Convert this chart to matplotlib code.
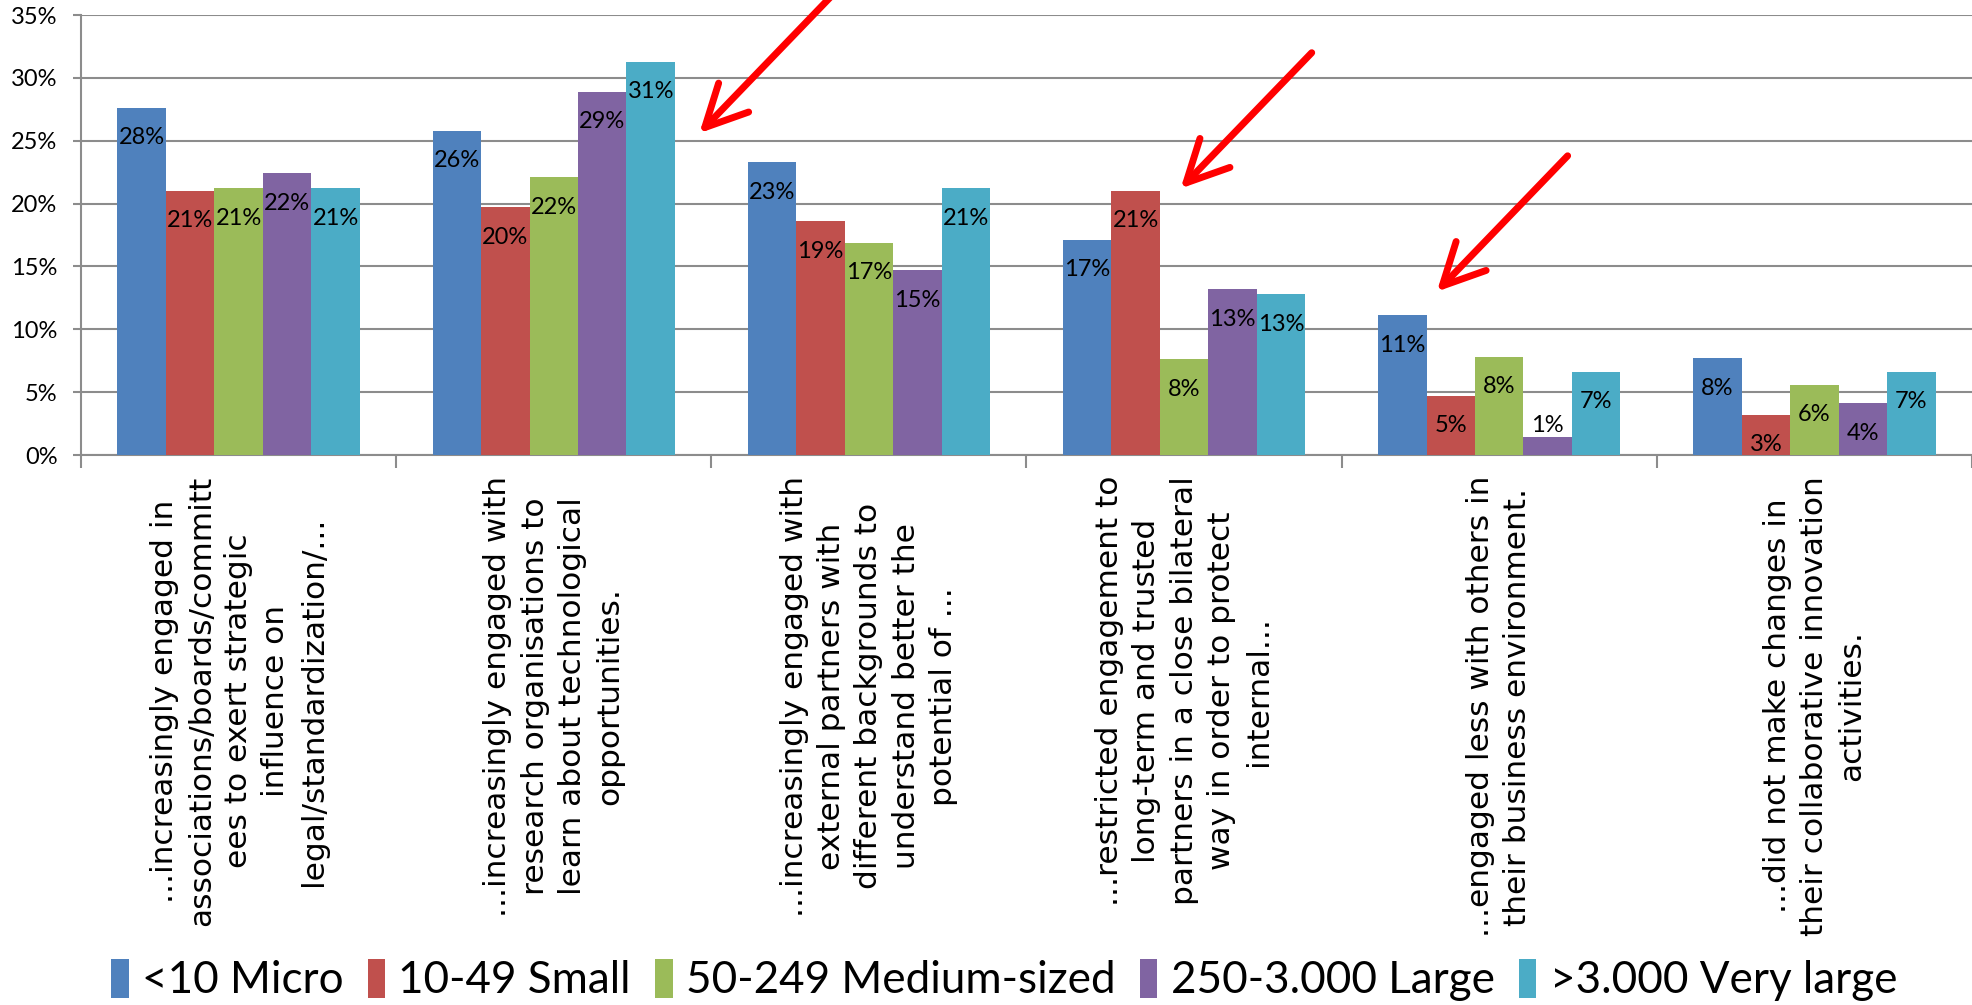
import matplotlib
matplotlib.use("Agg")
import matplotlib.pyplot as plt
import numpy as np

categories = [
    "...increasingly engaged in\nassociations/boards/committ\nees to exert strategic\ninfluence on\nlegal/standardization/...",
    "...increasingly engaged with\nresearch organisations to\nlearn about technological\nopportunities.",
    "...increasingly engaged with\nexternal partners with\ndifferent backgrounds to\nunderstand better the\npotential of ...",
    "...restricted engagement to\nlong-term and trusted\npartners in a close bilateral\nway in order to protect\ninternal...",
    "...engaged less with others in\ntheir business environment.",
    "...did not make changes in\ntheir collaborative innovation\nactivities.",
]
series_names = ["<10 Micro", "10-49 Small", "50-249 Medium-sized", "250-3.000 Large", ">3.000 Very large"]
micro = [27.6, 25.8, 23.3, 17.1, 11.1, 7.7]
small = [21.0, 19.7, 18.6, 21.0, 4.7, 3.2]
medium = [21.2, 22.1, 16.9, 7.6, 7.8, 5.6]
large = [22.4, 28.9, 14.7, 13.2, 1.4, 4.1]
very_large = [21.2, 31.3, 21.2, 12.8, 6.6, 6.6]
yticks = [0, 5, 10, 15, 20, 25, 30, 35]

colors = ["#4F81BD", "#C0504D", "#9BBB59", "#8064A2", "#4BACC6"]
series = [micro, small, medium, large, very_large]

W, H = 1972, 1005
fig = plt.figure(figsize=(W / 100, H / 100), dpi=100)
ax = fig.add_axes([81 / W, 1 - 455 / H, (W - 81) / W, 440 / H])

x = np.arange(len(categories))
bw = 1 / 6.5
for i, (vals, c, name) in enumerate(zip(series, colors, series_names)):
    bars = ax.bar(x + (i - 2) * bw, vals, width=bw, color=c, label=name, zorder=3)
    for b, v in zip(bars, vals):
        inside = v >= 3
        ax.annotate(f"{v:.0f}%", xy=(b.get_x() + b.get_width() / 2, b.get_height()),
                    xytext=(0, -14 if inside else 1), textcoords="offset points",
                    ha="center", va="top" if inside else "bottom",
                    fontsize=17, family="Lato", color="black", zorder=4)

ax.set_xlim(-0.5, len(categories) - 0.5)
ax.set_ylim(0, 35)
ax.set_yticks(yticks)
ax.set_yticklabels([f"{t}%" for t in yticks], family="Lato", fontsize=17)
ax.yaxis.grid(True, color="#8C8C8C", lw=1.5, zorder=0)
ax.set_axisbelow(True)
for s in ["top", "right"]:
    ax.spines[s].set_visible(False)
for s in ["left", "bottom"]:
    ax.spines[s].set_color("#8C8C8C")
    ax.spines[s].set_linewidth(1.5)
ax.tick_params(axis="y", length=6, width=1.5, color="#8C8C8C", pad=11)

ax.set_xticks(x)
ax.set_xticklabels(categories, rotation=90, ha="center", va="top", multialignment="center",
                   family="DejaVu Sans", fontsize=22.5, linespacing=1.36)
ax.tick_params(axis="x", which="major", length=0, pad=15)
ax.set_xticks(np.arange(len(categories) + 1) - 0.5, minor=True)
ax.tick_params(axis="x", which="minor", length=9, width=1.5, color="#8C8C8C")

# red arrows (annotations)
arrows = [((1.462, 25.6), (1.90, 37.0)), ((2.989, 21.2), (3.405, 32.0)), ((3.802, 13.0), (4.217, 23.8))]
for head, tail in arrows:
    ax.annotate("", xy=head, xytext=tail, annotation_clip=False,
                arrowprops=dict(arrowstyle="->,head_length=1.0,head_width=0.5", color="red",
                                lw=5, mutation_scale=30, shrinkA=0, shrinkB=0))

leg = fig.legend(loc="center", bbox_to_anchor=(1004 / W, 1 - 980 / H), ncol=5, frameon=False,
                 prop={"family": "Lato", "size": 31.7}, handlelength=0.4, handleheight=1.0,
                 handletextpad=0.3, columnspacing=0.55, borderpad=0)

fig.savefig("out.png", dpi=100)
